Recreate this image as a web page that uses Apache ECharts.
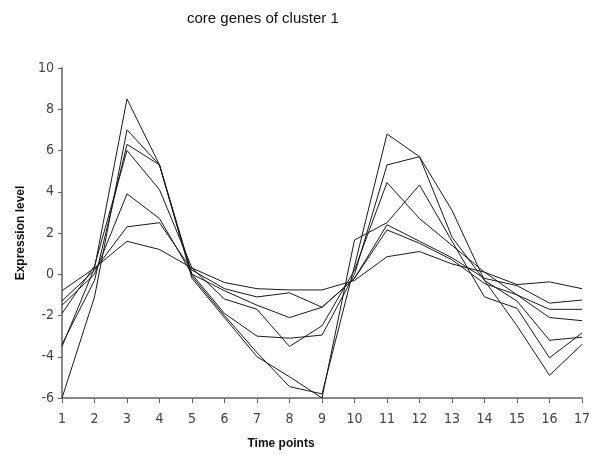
<!DOCTYPE html>
<html>
<head>
<meta charset="utf-8">
<script src="https://cdn.jsdelivr.net/npm/echarts@6/dist/echarts.min.js"></script>
<style>
  html, body { margin: 0; padding: 0; background: #fff; }
  #chart { width: 597px; height: 460px; }
</style>
</head>
<body>
<div id="chart"></div>
<script>
var timePoints = ['1','2','3','4','5','6','7','8','9','10','11','12','13','14','15','16','17'];

// one array per core gene
var gene1 = [-3.5, 0.3, 8.5, 5.3, -0.1, -2.0, -3.8, -5.45, -5.8, 0.4, 6.8, 5.7, 3.1, -0.3, -2.5, -4.9, -3.4];
var gene2 = [-6.0, -1.1, 7.0, 5.3, -0.2, -2.1, -4.0, -4.97, -6.0, 1.66, 2.5, 4.33, 1.6, -1.1, -1.65, -4.05, -2.85];
var gene3 = [-3.4, -0.3, 6.3, 5.3, 0.0, -1.9, -3.0, -3.1, -2.95, 0.0, 5.3, 5.7, 1.8, -0.3, -1.3, -3.2, -3.05];
var gene4 = [-1.9, 0.4, 6.0, 4.1, 0.3, -1.2, -1.7, -3.5, -2.5, 0.2, 4.45, 2.7, 1.4, 0.1, -1.0, -2.1, -2.25];
var gene5 = [-1.5, 0.0, 3.9, 2.7, 0.0, -0.8, -1.5, -2.1, -1.6, -0.2, 2.4, 1.6, 0.8, -0.2, -0.55, -1.4, -1.25];
var gene6 = [-1.3, 0.2, 2.3, 2.5, 0.2, -0.7, -1.1, -0.9, -1.6, -0.2, 2.15, 1.5, 0.7, -0.45, -1.0, -1.7, -1.7];
var gene7 = [-0.8, 0.3, 1.6, 1.2, 0.3, -0.4, -0.7, -0.76, -0.76, -0.3, 0.85, 1.1, 0.5, 0.1, -0.5, -0.37, -0.7];

var genes = [gene1, gene2, gene3, gene4, gene5, gene6, gene7];

var chart = echarts.init(document.getElementById('chart'));

var seriesList = genes.map(function (g, i) {
    return {
        name: 'gene ' + (i + 1),
        type: 'line',
        data: g,
        symbol: 'none',
        animation: false,
        lineStyle: { color: '#1a1a1a', width: 1 }
    };
});

var tickFont = '"DejaVu Sans Condensed", "Liberation Sans Narrow", sans-serif';

var option = {
    backgroundColor: '#fff',
    title: {
        text: 'core genes of cluster 1',
        left: 182,
        top: 6,
        textStyle: {
            fontFamily: 'Liberation Sans',
            fontSize: 15,
            fontWeight: 'normal',
            color: '#111'
        }
    },
    grid: { left: 62, right: 15, top: 68, bottom: 62 },
    xAxis: {
        type: 'category',
        data: timePoints,
        boundaryGap: false,
        name: 'Time points',
        nameLocation: 'middle',
        nameGap: 40,
        nameTextStyle: {
            fontFamily: 'Liberation Sans',
            fontSize: 12,
            fontWeight: 'bold',
            color: '#111',
            padding: [0, 82, 0, 0]
        },
        axisLine: { onZero: false, lineStyle: { color: '#888', width: 2 } },
        axisTick: { alignWithLabel: true, length: 5, lineStyle: { color: '#666' } },
        axisLabel: {
            fontFamily: tickFont,
            fontSize: 14,
            color: '#444',
            margin: 14
        },
        splitLine: { show: false }
    },
    yAxis: {
        type: 'value',
        min: -6,
        max: 10,
        interval: 2,
        name: 'Expression level',
        nameLocation: 'middle',
        nameGap: 35,
        nameTextStyle: {
            fontFamily: 'Liberation Sans',
            fontSize: 12,
            fontWeight: 'bold',
            color: '#111'
        },
        axisLine: { show: true, lineStyle: { color: '#888', width: 2 } },
        axisTick: { show: true, length: 4, lineStyle: { color: '#666' } },
        axisLabel: {
            fontFamily: tickFont,
            fontSize: 14,
            color: '#444',
            margin: 8
        },
        splitLine: { show: false }
    },
    series: seriesList
};

chart.setOption(option);
</script>
</body>
</html>
